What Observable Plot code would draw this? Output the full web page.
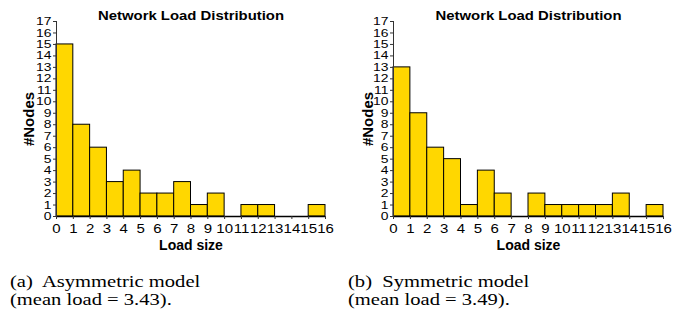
<!DOCTYPE html>
<html>
<head>
<meta charset="utf-8">
<script src="https://cdn.jsdelivr.net/npm/d3@7"></script>
<script src="https://cdn.jsdelivr.net/npm/@observablehq/plot@0.6"></script>
<style>
  html, body { margin: 0; padding: 0; background: #fff; }
  #wrap { position: relative; width: 683px; height: 318px; overflow: hidden; background: #fff; }
  .chart { position: absolute; top: 0; }
  .chart svg { overflow: visible; }
  g[aria-label="y-axis label"] text, g[aria-label="x-axis label"] text { font-size: 14px; font-weight: bold; fill: #000; }
  g[aria-label="y-axis label"] text { font-size: 15px; }
  .cap { position: absolute; top: 273px; font-family: "Liberation Serif", "Times New Roman", serif; font-size: 17px; line-height: 18px; color: #000; transform: scaleX(1.21); transform-origin: 0 0; white-space: nowrap; }
</style>
</head>
<body>
<div id="wrap">
  <div class="chart" id="a" style="left:0px"></div>
  <div class="chart" id="b" style="left:341px"></div>
  <div class="cap" style="left:10px">(a)&nbsp; Asymmetric model<br>(mean load = 3.43).</div>
  <div class="cap" style="left:348px">(b)&nbsp; Symmetric model<br>(mean load = 3.49).</div>
</div>
<script>
const asymmetric = [15, 8, 6, 3, 4, 2, 2, 3, 1, 2, 0, 1, 1, 0, 0, 1];
const symmetric  = [13, 9, 6, 5, 1, 4, 2, 0, 2, 1, 1, 1, 1, 2, 0, 1];
const xTicks = [0, 1, 2, 3, 4, 5, 6, 7, 8, 9, 10, 11, 12, 13, 14, 15, 16];
const yTicks = [0, 1, 2, 3, 4, 5, 6, 7, 8, 9, 10, 11, 12, 13, 14, 15, 16, 17];
const title = "Network Load Distribution";
const xLabel = "Load size";
const yLabel = "#Nodes";

function chart(values, o) {
  const rows = values.map((v, i) => ({x1: i, x2: i + 1, n: v}));
  return Plot.plot({
    width: o.width,
    height: 260,
    marginLeft: o.ml,
    marginRight: o.mr,
    marginTop: 21,
    marginBottom: 44,
    style: {fontFamily: "'Liberation Sans', Arial, sans-serif", background: "transparent", color: "#000"},
    x: {domain: [0, 16]},
    y: {domain: [0, 17]},
    marks: [
      Plot.rectY(rows, {x1: "x1", x2: "x2", y: "n", fill: "#FFD700", stroke: "#000", strokeWidth: 1}),
      Plot.ruleY([0], {stroke: "#000", strokeWidth: 1.5}),
      Plot.ruleX([0], {y1: 0, y2: 17, stroke: "#333"}),
      Plot.axisY({ticks: yTicks, tickSize: 3, tickPadding: 2, fontSize: 11, stroke: "#333",
        label: yLabel, labelArrow: false, labelAnchor: "center", labelOffset: o.lo}),
      Plot.axisX({ticks: xTicks, tickSize: 3, tickPadding: 5, fontSize: 12, stroke: "#333",
        label: xLabel, labelArrow: false, labelAnchor: "center", labelOffset: 33}),
      Plot.text([title], {frameAnchor: "top", dy: -10, fontSize: 12, fontWeight: "bold"})
    ]
  });
}

function stretch(svg, sel, f) {
  svg.querySelectorAll(sel).forEach(t => {
    const L = t.getComputedTextLength();
    t.setAttribute("textLength", L * f);
    t.setAttribute("lengthAdjust", "spacingAndGlyphs");
  });
}

const A = chart(asymmetric, {width: 341, ml: 56, mr: 16, lo: 33});
const B = chart(symmetric, {width: 342, ml: 52, mr: 20, lo: 31});
document.getElementById("a").appendChild(A);
document.getElementById("b").appendChild(B);
for (const s of [A, B]) {
  s.querySelectorAll('g[aria-label="x-axis label"] text, g[aria-label="y-axis label"] text').forEach(t => {
    t.textContent = t.textContent.replace(/[↑→←↓]/g, "").trim();
  });
  stretch(s, 'g[aria-label="y-axis tick label"] text', 1.26);
  stretch(s, 'g[aria-label="x-axis tick label"] text', 1.25);
  stretch(s, 'g[aria-label="text"] text', 1.24);
}
</script>
</body>
</html>
